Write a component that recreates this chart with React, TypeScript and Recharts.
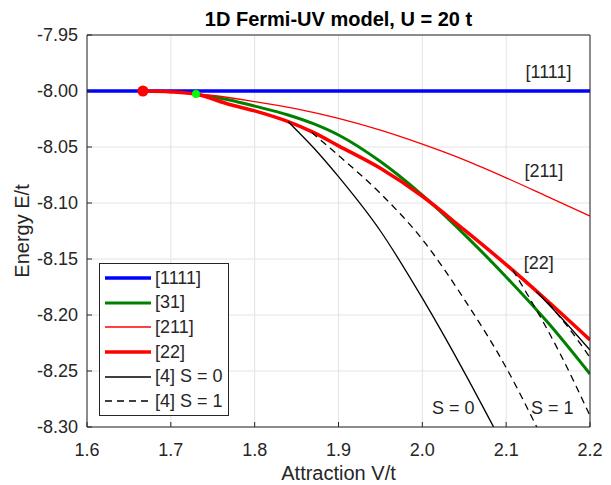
import React from 'react';
import { LineChart, Line, XAxis, YAxis, CartesianGrid, Legend, ReferenceDot, Label } from 'recharts';

// axis ticks
const xTicks = [1.6, 1.7, 1.8, 1.9, 2.0, 2.1, 2.2];
const yTicks = [-8.3, -8.25, -8.2, -8.15, -8.1, -8.05, -8.0, -7.95];

// [1111]
const v1111 = [1.6, 2.2];
const e1111 = [-8.0, -8.0];

// [31]
const v31 = [1.73, 1.77, 1.8, 1.84, 1.87, 1.9, 1.95, 2.0, 2.05, 2.1, 2.15, 2.2];
const e31 = [-8.0027, -8.008, -8.0135, -8.0214, -8.0292, -8.0393, -8.063, -8.093, -8.128, -8.166, -8.207, -8.2527];

// [211]
const v211 = [1.6667, 1.7, 1.75, 1.8, 1.85, 1.9, 1.95, 2.0, 2.05, 2.1, 2.15, 2.2];
const e211 = [-8.0, -8.001, -8.004, -8.0095, -8.016, -8.0245, -8.035, -8.0475, -8.0615, -8.0775, -8.0945, -8.1116];

// [22]
const v22 = [1.6667, 1.7, 1.73, 1.77, 1.8, 1.84, 1.87, 1.9, 1.95, 2.0, 2.05, 2.1, 2.15, 2.2];
const e22 = [-8.0, -8.0008, -8.003, -8.012, -8.0178, -8.0274, -8.037, -8.049, -8.069, -8.094, -8.124, -8.155, -8.188, -8.2223];

// [4] S = 0 branches
const vS0a = [1.84, 1.87, 1.9, 1.95, 2.0, 2.05, 2.085];
const eS0a = [-8.0274, -8.0505, -8.0765, -8.125, -8.185, -8.251, -8.3];
const vS0b = [2.136, 2.17, 2.2];
const eS0b = [-8.179, -8.206, -8.2313];

// [4] S = 1 branches
const vS1a = [1.868, 1.9, 1.95, 2.0, 2.05, 2.1, 2.1365];
const eS1a = [-8.037, -8.0575, -8.0915, -8.1325, -8.186, -8.247, -8.3];
const vS1b = [2.108, 2.144, 2.164, 2.2];
const eS1b = [-8.16, -8.206, -8.234, -8.29];
const vS1c = [2.15, 2.175, 2.2];
const eS1c = [-8.189, -8.212, -8.2378];

// transition markers
const redDot = { v: 1.6667, e: -8.0 };
const greenDot = { v: 1.73, e: -8.0027 };

// text inside the axes
const notes = [
  { v: 2.1505, e: -7.983, text: '[1111]' },
  { v: 2.145, e: -8.0714, text: '[211]' },
  { v: 2.139, e: -8.153, text: '[22]' },
  { v: 2.037, e: -8.283, text: 'S = 0' },
  { v: 2.155, e: -8.283, text: 'S = 1' },
];

const legendItems = [
  { name: '[1111]', color: '#0000ff', width: 3.5, dash: undefined },
  { name: '[31]', color: '#008000', width: 3, dash: undefined },
  { name: '[211]', color: '#ff0000', width: 1.3, dash: undefined },
  { name: '[22]', color: '#ff0000', width: 3.5, dash: undefined },
  { name: '[4] S = 0', color: '#000000', width: 1.3, dash: undefined },
  { name: '[4] S = 1', color: '#000000', width: 1.3, dash: '7 5' },
];

const pts = (v: number[], e: number[]) => v.map((x, i) => ({ v: x, e: e[i] }));

const axisColor = '#262626';
const font = '"Liberation Sans", Arial, Helvetica, sans-serif';

const renderLegend = () => (
  <div
    style={{
      border: `1px solid ${axisColor}`,
      background: '#fff',
      width: 128,
      paddingTop: 2,
      paddingBottom: 1,
      fontSize: 18,
      fontFamily: font,
      color: axisColor,
    }}
  >
    {legendItems.map((item) => (
      <div key={item.name} style={{ display: 'flex', alignItems: 'center', height: 24.6 }}>
        <svg width={50} height={10} style={{ marginLeft: 4 }}>
          <line x1={1} x2={47} y1={5} y2={5} stroke={item.color} strokeWidth={item.width} strokeDasharray={item.dash} />
        </svg>
        <span style={{ marginLeft: 1, whiteSpace: 'nowrap' }}>{item.name}</span>
      </div>
    ))}
  </div>
);

const App = () => {
  return (
    <div style={{ position: 'absolute', left: 0, top: 0, background: '#fff', fontFamily: font }}>
      <LineChart width={611} height={485} margin={{ top: 34, right: 20, bottom: 0, left: 0 }}>
        <CartesianGrid stroke="#e3e3e3" strokeWidth={1} />
        <XAxis
          type="number"
          dataKey="v"
          domain={[1.6, 2.2]}
          ticks={xTicks}
          allowDataOverflow
          tickFormatter={(t: number) => t.toFixed(1)}
          tick={{ fontSize: 18, fill: axisColor }}
          stroke={axisColor}
          tickSize={-5}
          tickMargin={21}
          height={58}
        >
          <Label value="Attraction V/t" position="insideBottom" offset={5} style={{ fontSize: 20, fill: axisColor }} />
        </XAxis>
        <XAxis
          xAxisId="top"
          orientation="top"
          type="number"
          domain={[1.6, 2.2]}
          ticks={xTicks}
          allowDataOverflow
          tick={false}
          stroke={axisColor}
          tickSize={-5}
          height={1}
        >
          <Label
            value="1D Fermi-UV model, U = 20 t"
            position="top"
            offset={8}
            style={{ fontSize: 20, fontWeight: 'bold', fill: '#000' }}
          />
        </XAxis>
        <YAxis
          type="number"
          domain={[-8.3, -7.95]}
          ticks={yTicks}
          allowDataOverflow
          tickFormatter={(t: number) => t.toFixed(2)}
          tick={{ fontSize: 18, fill: axisColor }}
          stroke={axisColor}
          tickSize={-5}
          tickMargin={14}
          width={87}
        >
          <Label
            value="Energy E/t"
            angle={-90}
            position="insideLeft"
            offset={22}
            style={{ fontSize: 20, fill: axisColor, textAnchor: 'middle' }}
          />
        </YAxis>
        <YAxis
          yAxisId="right"
          orientation="right"
          type="number"
          domain={[-8.3, -7.95]}
          ticks={yTicks}
          allowDataOverflow
          tick={false}
          stroke={axisColor}
          tickSize={-5}
          width={1}
        />
        <Legend
          layout="vertical"
          align="center"
          verticalAlign="middle"
          content={renderLegend}
          wrapperStyle={{ left: 99, top: 263, width: 130, height: 152 }}
        />

        <Line data={pts(v1111, e1111)} dataKey="e" type="linear" stroke="#0000ff" strokeWidth={3.5} dot={false} isAnimationActive={false} />
        <Line data={pts(v31, e31)} dataKey="e" type="monotone" stroke="#008000" strokeWidth={3} dot={false} isAnimationActive={false} />
        <Line data={pts(v211, e211)} dataKey="e" type="monotone" stroke="#ff0000" strokeWidth={1.3} dot={false} isAnimationActive={false} />
        <Line data={pts(v22, e22)} dataKey="e" type="monotone" stroke="#ff0000" strokeWidth={3.5} dot={false} isAnimationActive={false} />
        <Line data={pts(vS0a, eS0a)} dataKey="e" type="monotone" stroke="#000" strokeWidth={1.3} dot={false} isAnimationActive={false} />
        <Line data={pts(vS0b, eS0b)} dataKey="e" type="monotone" stroke="#000" strokeWidth={1.3} dot={false} isAnimationActive={false} />
        <Line data={pts(vS1a, eS1a)} dataKey="e" type="monotone" stroke="#000" strokeWidth={1.3} strokeDasharray="7 5" dot={false} isAnimationActive={false} />
        <Line data={pts(vS1b, eS1b)} dataKey="e" type="monotone" stroke="#000" strokeWidth={1.3} strokeDasharray="7 5" dot={false} isAnimationActive={false} />
        <Line data={pts(vS1c, eS1c)} dataKey="e" type="monotone" stroke="#000" strokeWidth={1.3} strokeDasharray="7 5" dot={false} isAnimationActive={false} />

        <ReferenceDot x={redDot.v} y={redDot.e} r={5.5} fill="#ff0000" stroke="none" />
        <ReferenceDot x={greenDot.v} y={greenDot.e} r={4} fill="#00ff00" stroke="none" />
        {notes.map((n) => (
          <ReferenceDot
            key={n.text}
            x={n.v}
            y={n.e}
            r={0}
            fill="none"
            stroke="none"
            label={{ value: n.text, position: 'center', fontSize: 18, fill: axisColor }}
          />
        ))}
      </LineChart>
    </div>
  );
};

export default App;
